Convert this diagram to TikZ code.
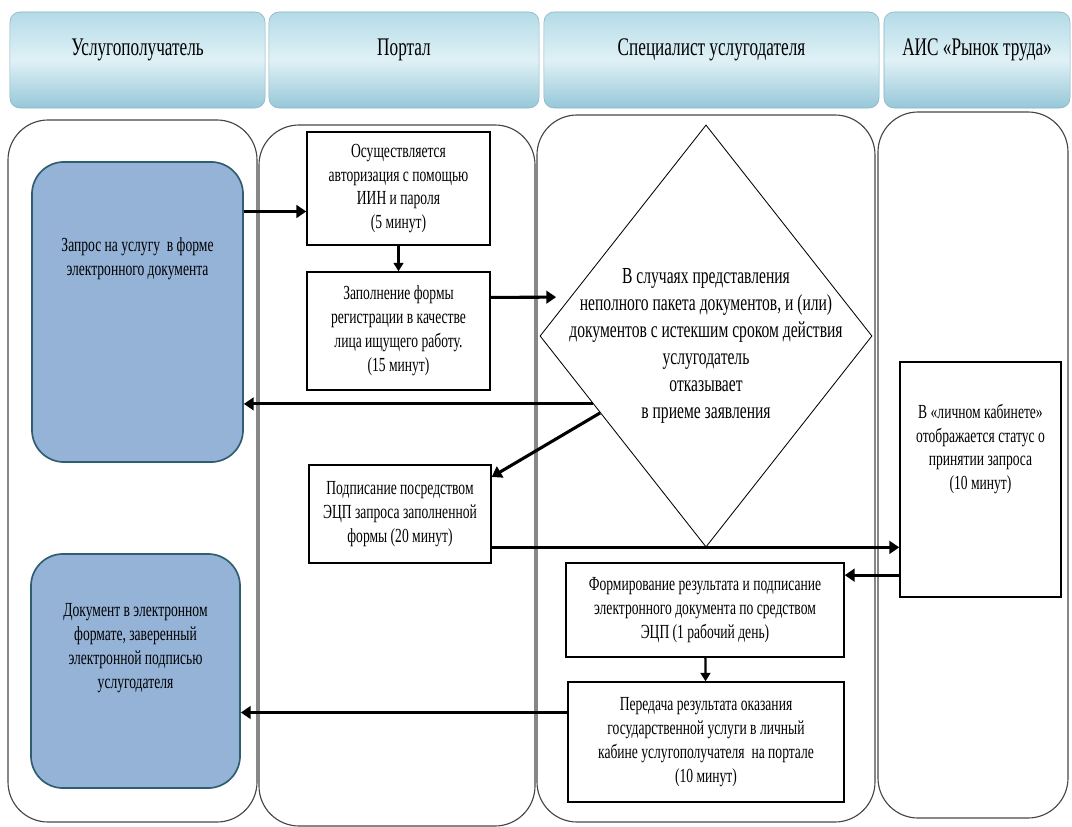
\documentclass[tikz,border=0pt]{standalone}
\usepackage{fontspec}
\setmainfont{Liberation Serif}[FakeStretch=0.68]
\usetikzlibrary{shapes.geometric,arrows.meta,positioning}

\definecolor{headtop}{RGB}{180,219,231}
\definecolor{headmid}{RGB}{224,241,246}
\definecolor{headbot}{RGB}{150,199,216}
\definecolor{headline}{RGB}{135,180,197}
\definecolor{actorfill}{RGB}{149,179,215}
\definecolor{actorline}{RGB}{47,94,112}
\definecolor{laneline}{RGB}{70,70,70}

\tikzset{%
  lane/.style={
    draw=laneline,
    line width=0.8pt,
    rounded corners=1cm
  },
  lane head/.style={
    rectangle,
    rounded corners=0.25cm,
    draw=headline,
    top color=headtop,
    bottom color=headbot,
    middle color=headmid,
    minimum height=2.4cm,
    text height=13pt,
    text depth=20pt,
    font=\fontsize{18}{21}\selectfont
  },
  actor/.style={
    rectangle,
    rounded corners=0.8cm,
    draw=actorline,
    line width=1.2pt,
    fill=actorfill
  },
  body/.style={
    align=center,
    font=\fontsize{14.2}{17}\selectfont
  },
  stepbox/.style={
    rectangle,
    draw,
    line width=1pt,
    inner sep=2pt,
    body
  },
  decision/.style={
    diamond,
    draw,
    line width=0.6pt,
    inner sep=0pt
  },
  flow/.style={
    line width=2.2pt,
    -{Triangle[length=7pt,width=9pt]}
  },
  flow thin/.style={
    line width=1.6pt,
    -{Triangle[length=6pt,width=7pt]}
  },
}

\begin{document}
\begin{tikzpicture}[x=0.025cm, y=-0.025cm]
\useasboundingbox (0,0) rectangle (1072,827);

% swimlanes
\draw[lane] (8,120) rectangle (257,822);
\draw[lane] (259,125) rectangle (535,826);
\draw[lane] (537,115) rectangle (875,822);
\draw[lane] (878,112) rectangle (1068,818);

% lane headers
\node[lane head, minimum width=6.375cm] (h client) at (137.5,60) {Услугополучатель};
\node[lane head, minimum width=6.75cm] (h portal) at (404,60) {Портал};
\node[lane head, minimum width=8.375cm] (h expert) at (711.5,60) {Специалист услугодателя};
\node[lane head, minimum width=4.65cm] (h ais) at (977,60) {АИС «Рынок труда»};

% service receiver
\node[actor, minimum width=5.275cm, minimum height=7.5cm] (req) at (137.5,312) {};
\node[body] (req text) at (137.5,259) {Запрос на услугу\ \ в форме\\электронного документа};
\node[actor, minimum width=5.225cm, minimum height=5.85cm] (res) at (135.5,671) {};
\node[body] (res text) at (135.5,648) {Документ в электронном\\формате, заверенный\\электронной подписью\\услугодателя};

% portal
\node[stepbox, minimum width=4.575cm, minimum height=2.825cm] (auth) at (398.5,188.5)
  {Осуществляется\\авторизация с помощью\\ИИН и пароля\\(5 минут)};
\node[stepbox, minimum width=4.575cm, minimum height=2.95cm] (form) at (398.5,331)
  {Заполнение формы\\регистрации в качестве\\лица ищущего работу.\\(15 минут)};
\node[stepbox, minimum width=4.55cm, minimum height=2.45cm] (sign) at (400,514)
  {Подписание посредством\\ЭЦП запроса заполненной\\формы (20 минут)};

% specialist
\node[decision, minimum width=8.3cm, minimum height=10.55cm] (check) at (706,336) {};
\node[body, font=\fontsize{16.3}{19.3}\selectfont] (check text) at (706,346)
  {В случаях представления\\неполного пакета документов, и (или)\\документов с истекшим сроком действия\\услугодатель\\отказывает\\в приеме заявления};
\node[stepbox, minimum width=6.95cm, minimum height=2.35cm] (result) at (705,610)
  {Формирование результата и подписание\\электронного документа по средством\\ЭЦП (1 рабочий день)};
\node[stepbox, minimum width=6.9cm, minimum height=3cm] (send) at (706,742)
  {Передача результата оказания\\государственной услуги в личный\\кабине услугополучателя\ \ на портале\\(10 минут)};

% labour market system
\node[stepbox, minimum width=4.025cm, minimum height=5.875cm] (status) at (980.5,479.5) {};
\node[body] (status text) at (980.5,449) {В «личном кабинете»\\отображается статус о\\принятии запроса\\(10 минут)};

% flows
\draw[flow] (req.east |- auth.194) -- (auth.194);
\draw[flow thin] (auth) -- (form);
\draw[flow, shorten >=10pt] (form.20) -- (check.164);
\draw[flow] (check.211) -- (check.211 -| req.east);
\draw[flow] (check.216) -- (sign.22);
\draw[flow] (sign.340) -- (sign.340 -| status.west);
\draw[flow] (status.west |- result.14) -- (result.14);
\draw[flow thin] (result) -- (send);
\draw[flow] (send.168) -- (send.168 -| res.east);
\end{tikzpicture}
\end{document}
